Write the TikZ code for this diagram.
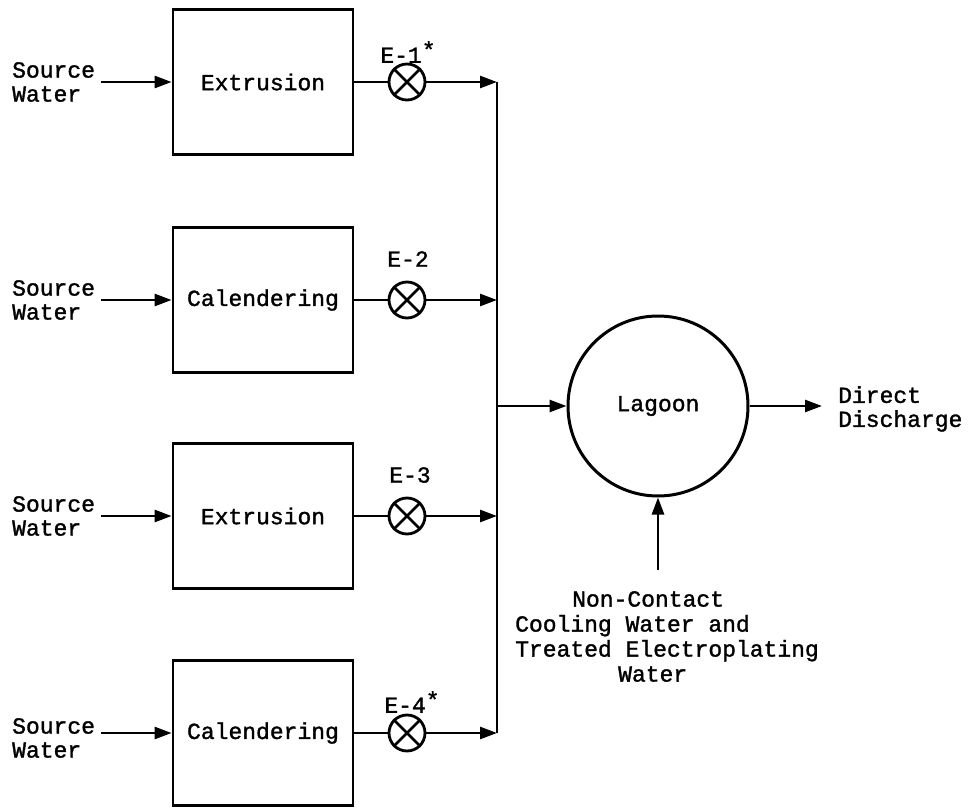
\documentclass[tikz,border=0pt]{standalone}
\usepackage{fontspec}
\newfontfamily\tw[FakeBold=1.4]{Liberation Mono}
\usetikzlibrary{arrows.meta}
\begin{document}
\begin{tikzpicture}[x=1pt,y=-1pt,
  every node/.style={font=\tw\fontsize{23}{24}\selectfont},
  proc/.style={draw, line width=2.8pt, minimum width=180pt, minimum height=145pt, inner sep=0pt},
  valve/.style={draw, circle, line width=2.8pt, minimum size=36pt, inner sep=0pt},
  pond/.style={draw, circle, line width=3pt, minimum size=180pt, inner sep=0pt},
  flow/.style={line width=2.6pt, -{Triangle[length=17pt 0 0,width=12pt 0 0]}},
  pipe/.style={line width=2.6pt},
  lbl/.style={align=left, inner sep=0pt},
]
\useasboundingbox (0,0) rectangle (970,808);

% process boxes
\node[proc] (b1) at (263,82)  {Extrusion};
\node[proc] (b2) at (263,300) {Calendering};
\node[proc] (b3) at (263,516) {Extrusion};
\node[proc] (b4) at (263,733) {Calendering};

% source labels
\node[lbl, anchor=west] (s1) at (12,82)  {Source\\Water};
\node[lbl, anchor=west] (s2) at (12,300) {Source\\Water};
\node[lbl, anchor=west] (s3) at (12,516) {Source\\Water};
\node[lbl, anchor=west] (s4) at (12,738) {Source\\Water};

% valves
\node[valve] (v1) at (407,82)  {};
\node[valve] (v2) at (407,300) {};
\node[valve] (v3) at (407,516) {};
\node[valve] (v4) at (407,733) {};
\foreach \v in {v1,v2,v3,v4}{
  \draw[pipe] (\v.45) -- (\v.225) (\v.135) -- (\v.315);
}

% valve labels
\node[inner sep=0pt] (e1) at (408,52)  {E-1\raisebox{5pt}{*}};
\node[inner sep=0pt] (e2) at (408,259) {E-2};
\node[inner sep=0pt] (e3) at (410,475) {E-3};
\node[inner sep=0pt] (e4) at (412,702) {E-4\raisebox{5pt}{*}};

% bus coordinates
\coordinate (j1) at (497,82);
\coordinate (j4) at (497,733);
\coordinate (jm) at (497,406);

% lagoon
\node[pond] (lag) at (658,406) {Lagoon};
\coordinate (out) at (822,406);
\coordinate (nc) at (658,570);
\node[lbl, anchor=north west] (dd) at (838,386) {Direct\\Discharge};
\node[lbl, anchor=north west, font=\tw\fontsize{23}{25}\selectfont] (ncw) at (515,591)
  {\hspace*{57pt}Non-Contact\\Cooling Water and\\Treated Electroplating\\\hspace*{103pt}Water};

% connectors
\foreach \i in {1,2,3,4}{
  \draw[flow] ([xshift=6pt]s\i.east |- b\i.west) -- (b\i.west);
  \draw[pipe] (b\i.east) -- (v\i.west);
  \draw[flow] (v\i.east) -- (v\i.east -| j1);
}
\draw[pipe] (j1) -- (j4);
\draw[flow] (jm) -- (lag.west);
\draw[flow] (lag.east) -- (out);
\draw[flow] (nc) -- (lag.south);
\end{tikzpicture}
\end{document}
